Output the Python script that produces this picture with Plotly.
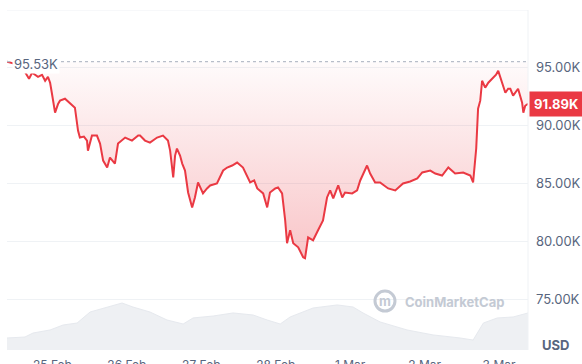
import pandas as pd
import plotly.graph_objects as go

# ---- data ----
start = pd.Timestamp("2025-02-24 09:20")
price_hours = [0, 2.6, 4.8, 6.5, 7.1, 8.1, 10.0, 11.3, 12.3, 13.2, 13.9, 14.5, 15.5, 16.5, 17.1,
               18.7, 20.3, 21.9, 22.9, 23.5, 24.8, 25.8, 26.1, 27.4, 29.0, 30.0, 31.0, 32.3, 33.2,
               34.8, 35.8, 38.1, 40.3, 42.3, 42.9, 44.5, 46.1, 48.4, 50.3, 51.9, 52.6, 53.6, 54.2,
               54.8, 55.8, 56.5, 57.4, 58.4, 59.7, 60.6, 61.6, 63.2, 64.5, 65.5, 67.7, 69.7, 71.0,
               72.6, 74.2, 76.1, 78.4, 79.7, 80.7, 82.6, 83.9, 84.8, 86.5, 87.4, 88.7, 89.7, 90.3,
               91.3, 92.3, 93.9, 95.5, 96.1, 97.1, 98.7, 100.3, 101.9, 103.2, 104.2, 105.2, 106.8,
               108.1, 109.0, 111.3, 112.9, 113.9, 116.1, 117.1, 118.7, 120.3, 122.9, 125.2, 127.7,
               130.0, 132.3, 133.9, 136.5, 138.1, 140.3, 142.3, 144.5, 147.1, 149.4, 150.3, 151.0,
               151.3, 151.9, 152.6, 153.2, 154.2, 155.2, 156.8, 157.7, 158.4, 159.7, 160.7, 161.6,
               162.3, 163.2, 164.8, 166.1, 166.5, 167.1, 168.0]
price_k = [95.52, 95.34, 95.09, 94.40, 94.05, 94.57, 94.22, 94.40, 93.88, 94.22, 93.71, 92.76, 91.12,
           91.90, 92.16, 92.33, 91.98, 91.55, 89.57, 88.97, 89.05, 88.71, 87.84, 89.14, 89.14, 88.45,
           86.98, 86.38, 87.24, 86.72, 88.45, 88.97, 88.71, 89.14, 89.14, 88.71, 88.53, 88.97, 89.14,
           88.71, 87.84, 85.52, 87.41, 88.02, 87.41, 86.72, 86.12, 84.22, 82.93, 83.79, 85.09, 84.14,
           84.57, 84.83, 85.00, 86.12, 86.38, 86.55, 86.81, 86.38, 85.09, 85.26, 84.57, 84.14, 82.93,
           84.22, 84.57, 84.66, 84.14, 81.81, 79.83, 80.95, 79.83, 79.48, 78.62, 78.53, 80.34, 80.09,
           80.95, 81.81, 83.79, 84.40, 83.71, 84.83, 83.79, 84.22, 84.14, 84.40, 85.26, 86.55, 85.86,
           85.09, 85.09, 84.57, 84.40, 85.00, 85.17, 85.43, 85.95, 86.12, 85.86, 85.69, 86.38, 85.86,
           85.95, 85.69, 85.09, 86.98, 88.02, 91.47, 92.16, 93.88, 93.28, 93.71, 94.14, 94.40, 94.74,
           93.71, 92.84, 93.19, 93.19, 92.59, 93.19, 91.98, 91.12, 91.72, 91.89]

volume_hours = [0, 5.8, 8.4, 13.9, 18.1, 22.6, 26.8, 32.3, 37.1, 40.6, 46.1, 51.6, 56.8, 60.0, 66.5,
                72.9, 79.4, 83.9, 88.1, 91.3, 98.7, 106.5, 111.6, 114.8, 120.3, 129.0, 137.4, 146.1,
                150.3, 153.6, 158.1, 163.2, 168.0]
volume_b = [9.9, 10.7, 14.0, 16.5, 20.6, 22.2, 31.3, 35.4, 38.7, 35.4, 31.3, 24.7, 21.4, 26.4, 28.0,
            30.5, 28.8, 24.7, 21.4, 27.2, 34.6, 37.1, 35.4, 30.5, 23.1, 16.5, 12.4, 9.9, 8.2, 22.2,
            26.4, 27.2, 30.5]

open_price = 95.53
last_price = 91.89
y_ticks = [75, 80, 85, 90, 95]
y_tick_text = ["75.00K", "80.00K", "85.00K", "90.00K", "95.00K"]
x_ticks = ["2025-02-25", "2025-02-26", "2025-02-27", "2025-02-28", "2025-03-01", "2025-03-02", "2025-03-03"]
x_tick_text = ["25 Feb", "26 Feb", "27 Feb", "28 Feb", "1 Mar", "2 Mar", "3 Mar"]

# ---- figure ----
t_price = start + pd.to_timedelta(price_hours, unit="h")
t_vol = start + pd.to_timedelta(volume_hours, unit="h")
end = start + pd.Timedelta(hours=168)

RED = "#ea3943"
GRAY = "#58667e"
WM = "#c4cad4"

fig = go.Figure()

fig.add_trace(go.Scatter(x=t_vol, y=volume_b, yaxis="y2", mode="lines",
                         line=dict(color="#e6e9ee", width=1), fill="tozeroy",
                         fillcolor="#eef0f3", hoverinfo="skip", showlegend=False))

fig.add_trace(go.Scatter(x=t_price, y=[open_price] * len(t_price), mode="lines",
                         line=dict(width=0, color="rgba(0,0,0,0)"), hoverinfo="skip",
                         showlegend=False))
fig.add_trace(go.Scatter(x=t_price, y=price_k, mode="lines", line=dict(color=RED, width=2),
                         fill="tonexty",
                         fillgradient=dict(type="vertical",
                                           colorscale=[[0, "rgba(234,57,67,0.30)"],
                                                       [1, "rgba(234,57,67,0.02)"]],
                                           start=78, stop=95.5),
                         showlegend=False))

fig.update_layout(
    width=582, height=364,
    margin=dict(l=7, r=54, t=10, b=14),
    paper_bgcolor="white", plot_bgcolor="white",
    font=dict(family="Inter, Roboto, sans-serif", color=GRAY, size=13),
    xaxis=dict(range=[start, end], tickvals=x_ticks, ticktext=x_tick_text, showgrid=False,
               zeroline=False, showline=False, ticks="", tickfont=dict(size=12, color=GRAY),
               ticklabelstandoff=6, automargin=False),
    yaxis=dict(range=[70.6, 100], side="right", tickvals=y_ticks, ticktext=y_tick_text,
               showgrid=True, gridcolor="#eff2f5", gridwidth=1, zeroline=False, showline=False,
               ticks="", ticklabelstandoff=7, tickfont=dict(size=13, color=GRAY), automargin=False),
    yaxis2=dict(range=[0, 280], overlaying="y", visible=False),
    showlegend=False,
)

shapes = [
    dict(type="line", xref="paper", yref="y", x0=0, x1=1, y0=100, y1=100,
         line=dict(color="#eff2f5", width=1)),
    dict(type="line", xref="paper", yref="paper", x0=1, x1=1, y0=0, y1=1,
         line=dict(color="#eff2f5", width=1)),
    dict(type="line", xref="paper", yref="y", x0=0, x1=1, y0=open_price, y1=open_price,
         line=dict(color="#b8bec9", width=1.2, dash="dot")),
    dict(type="circle", xref="paper", yref="paper", x0=0.7063, x1=0.7447, y0=0.1146, y1=0.1734,
         layer="above", line=dict(color=WM, width=3)),
]
fig.update_layout(shapes=shapes)

fig.add_annotation(x=0, xref="paper", y=open_price, yref="y", text="95.53K", showarrow=False,
                   xanchor="left", xshift=5, yshift=-2, bgcolor="white", borderpad=1,
                   font=dict(size=13, color=GRAY))
fig.add_annotation(x=1, xref="paper", y=last_price, yref="y", text="<b>91.89K</b>",
                   showarrow=False, xanchor="left", xshift=1, bgcolor=RED, borderpad=4,
                   font=dict(size=13, color="white"))
fig.add_annotation(x=1, xref="paper", y=0.015, yref="paper", text="<b>USD</b>", showarrow=False,
                   xanchor="left", xshift=12, yanchor="middle", font=dict(size=13, color=GRAY))
fig.add_annotation(x=0.7255, xref="paper", y=0.144, yref="paper", text="<b>m</b>", showarrow=False,
                   xanchor="center", yanchor="middle", font=dict(size=13, color=WM))
fig.add_annotation(x=0.760, xref="paper", y=0.140, yref="paper", text="<b>CoinMarketCap</b>",
                   showarrow=False, xanchor="left", yanchor="middle", font=dict(size=13, color=WM))

fig.write_html("out.html")
